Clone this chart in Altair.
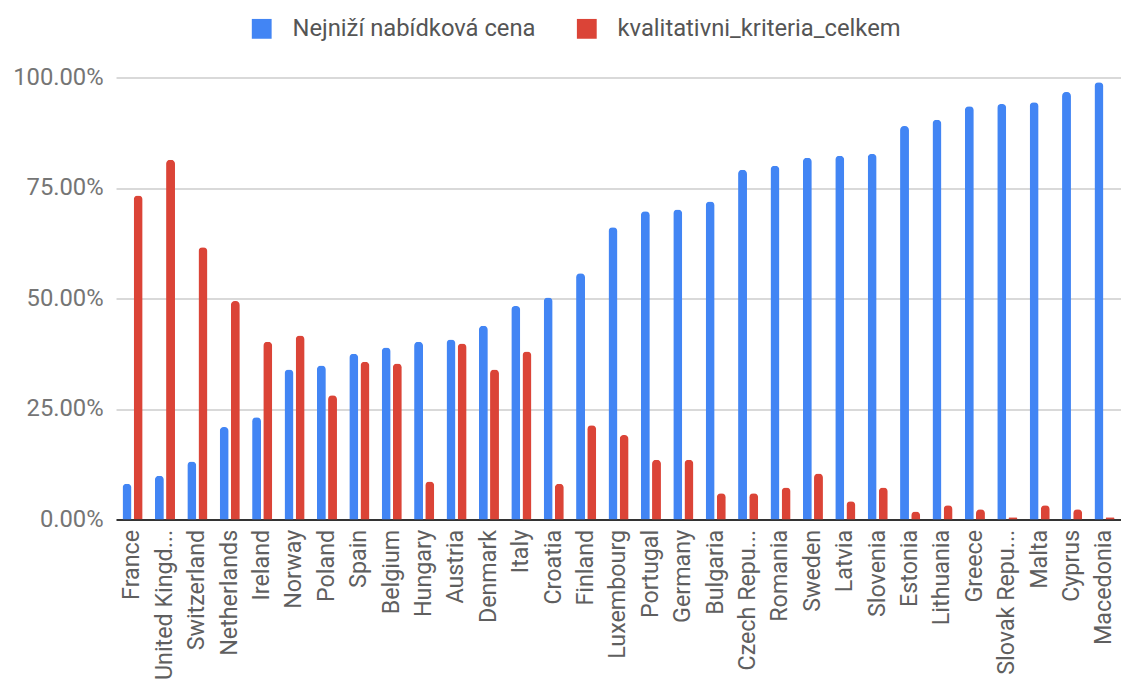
import altair as alt
import pandas as pd

countries = ["France", "United Kingd...", "Switzerland", "Netherlands", "Ireland", "Norway",
             "Poland", "Spain", "Belgium", "Hungary", "Austria", "Denmark", "Italy", "Croatia",
             "Finland", "Luxembourg", "Portugal", "Germany", "Bulgaria", "Czech Repu...",
             "Romania", "Sweden", "Latvia", "Slovenia", "Estonia", "Lithuania", "Greece",
             "Slovak Repu...", "Malta", "Cyprus", "Macedonia"]

lowest_price = [8.1, 9.9, 13.1, 20.9, 23.1, 33.9, 34.8, 37.5, 38.9, 40.2, 40.7, 43.8, 48.3, 50.2,
                55.7, 66.1, 69.7, 70.1, 71.9, 79.1, 80.0, 81.8, 82.3, 82.7, 89.0, 90.4, 93.5,
                94.0, 94.4, 96.7, 98.9]
quality = [73.3, 81.4, 61.6, 49.4, 40.2, 41.6, 28.1, 35.7, 35.3, 8.6, 39.8, 33.9, 38.0, 8.1,
           21.3, 19.1, 13.5, 13.5, 5.9, 5.9, 7.2, 10.4, 4.1, 7.2, 1.8, 3.2, 2.3, 0.5, 3.2, 2.3, 0.5]

series_names = ["Nejniží nabídková cena", "kvalitativni_kriteria_celkem"]
series_colors = ["#4285F4", "#DB4437"]
y_ticks = [0, 0.25, 0.5, 0.75, 1.0]

rows = []
for c, a, b in zip(countries, lowest_price, quality):
    rows.append({"country": c, "series": series_names[0], "value": a / 100})
    rows.append({"country": c, "series": series_names[1], "value": b / 100})
df = pd.DataFrame(rows)

FONT = "Roboto"

bars = alt.Chart(df).mark_bar(cornerRadiusTopLeft=4, cornerRadiusTopRight=4).encode(
    x=alt.X("country:N", sort=countries,
            scale=alt.Scale(paddingInner=0.38, paddingOuter=0.2),
            axis=alt.Axis(title=None, labelAngle=-90, labelFontSize=23.5, labelColor="#5f5f5f",
                          labelFont=FONT, ticks=False, domain=True, domainColor="#333333",
                          domainWidth=2, labelPadding=10, labelLimit=300)),
    xOffset=alt.XOffset("series:N", sort=series_names, scale=alt.Scale(paddingInner=0.2)),
    y=alt.Y("value:Q", scale=alt.Scale(domain=[0, 1]),
            axis=alt.Axis(title=None, format=".2%", values=y_ticks, labelFontSize=24,
                          labelColor="#757575", labelFont=FONT, ticks=False, domain=False,
                          gridColor="#cccccc", gridWidth=1.5, labelPadding=13)),
    color=alt.Color("series:N", sort=series_names,
                    scale=alt.Scale(domain=series_names, range=series_colors),
                    legend=alt.Legend(title=None, orient="none", legendX=135, legendY=-61,
                                      direction="horizontal", symbolType="square",
                                      symbolSize=400, symbolStrokeWidth=0, labelFontSize=24,
                                      labelFont=FONT, labelColor="#555555", labelOffset=19,
                                      columnPadding=39, labelLimit=400)),
)

chart = bars.properties(
    width=1014, height=446,
    padding={"left": 4, "top": 6, "right": 0, "bottom": 0},
).configure_view(stroke=None)

chart.save("out.html", embed_options={"renderer": "svg", "actions": False})
